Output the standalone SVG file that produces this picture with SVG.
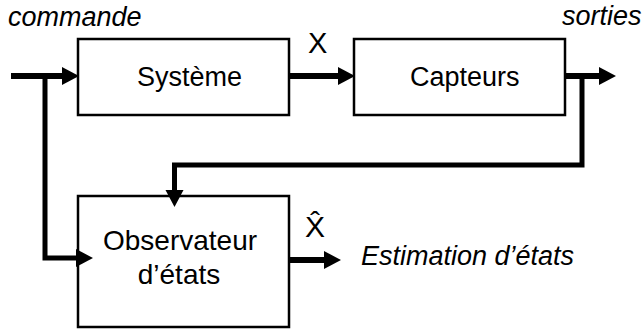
<svg xmlns="http://www.w3.org/2000/svg" width="643" height="329" viewBox="0 0 643 329">
  <style>
    .box { fill: #ffffff; stroke: #000000; stroke-width: 2.5; }
    .lbl { font-family: "Liberation Sans", Arial, sans-serif; font-size: 27px; fill: #000000; }
    .it { font-style: italic; }
    .wire { fill: none; stroke: #000000; stroke-width: 6; stroke-linejoin: miter; }
    .thin { stroke-width: 5; }
  </style>
  <defs>
    <marker id="arr" markerUnits="userSpaceOnUse" markerWidth="20" markerHeight="22" refX="0" refY="10" orient="auto" overflow="visible">
      <path d="M0,1 L17,10 L0,19 z" fill="#000000"/>
    </marker>
  </defs>

  <g id="node-systeme">
    <rect class="box" x="78" y="39" width="211" height="76"/>
    <text class="lbl" x="137" y="86">Système</text>
  </g>
  <g id="node-capteurs">
    <rect class="box" x="354" y="39" width="211" height="76"/>
    <text class="lbl" x="410" y="86">Capteurs</text>
  </g>
  <g id="node-observateur">
    <rect class="box" x="78" y="196" width="211" height="131"/>
    <text class="lbl" x="180" y="250" text-anchor="middle" style="font-size:28px">Observateur</text>
    <text class="lbl" x="179" y="284" text-anchor="middle" style="font-size:28px">d’états</text>
  </g>

  <g id="connectors">
    <path class="wire" d="M11,76 H62" marker-end="url(#arr)"/>
    <path class="wire thin" d="M45,76 V258 H76" marker-end="url(#arr)"/>
    <path class="wire" d="M289,76 H338" marker-end="url(#arr)"/>
    <path class="wire" d="M565,76 H599" marker-end="url(#arr)"/>
    <path class="wire thin" d="M582,76 V165 H174.5 V190" marker-end="url(#arr)"/>
    <path class="wire" d="M289,260 H324" marker-end="url(#arr)"/>
  </g>

  <g id="labels">
    <text class="lbl it" x="8" y="26">commande</text>
    <text class="lbl it" x="562" y="25">sorties</text>
    <text class="lbl" x="308" y="53" style="font-size:29px">X</text>
    <text class="lbl" x="305" y="237" style="font-size:30px">X̂</text>
    <text class="lbl it" x="361" y="265">Estimation d’états</text>
  </g>
</svg>
